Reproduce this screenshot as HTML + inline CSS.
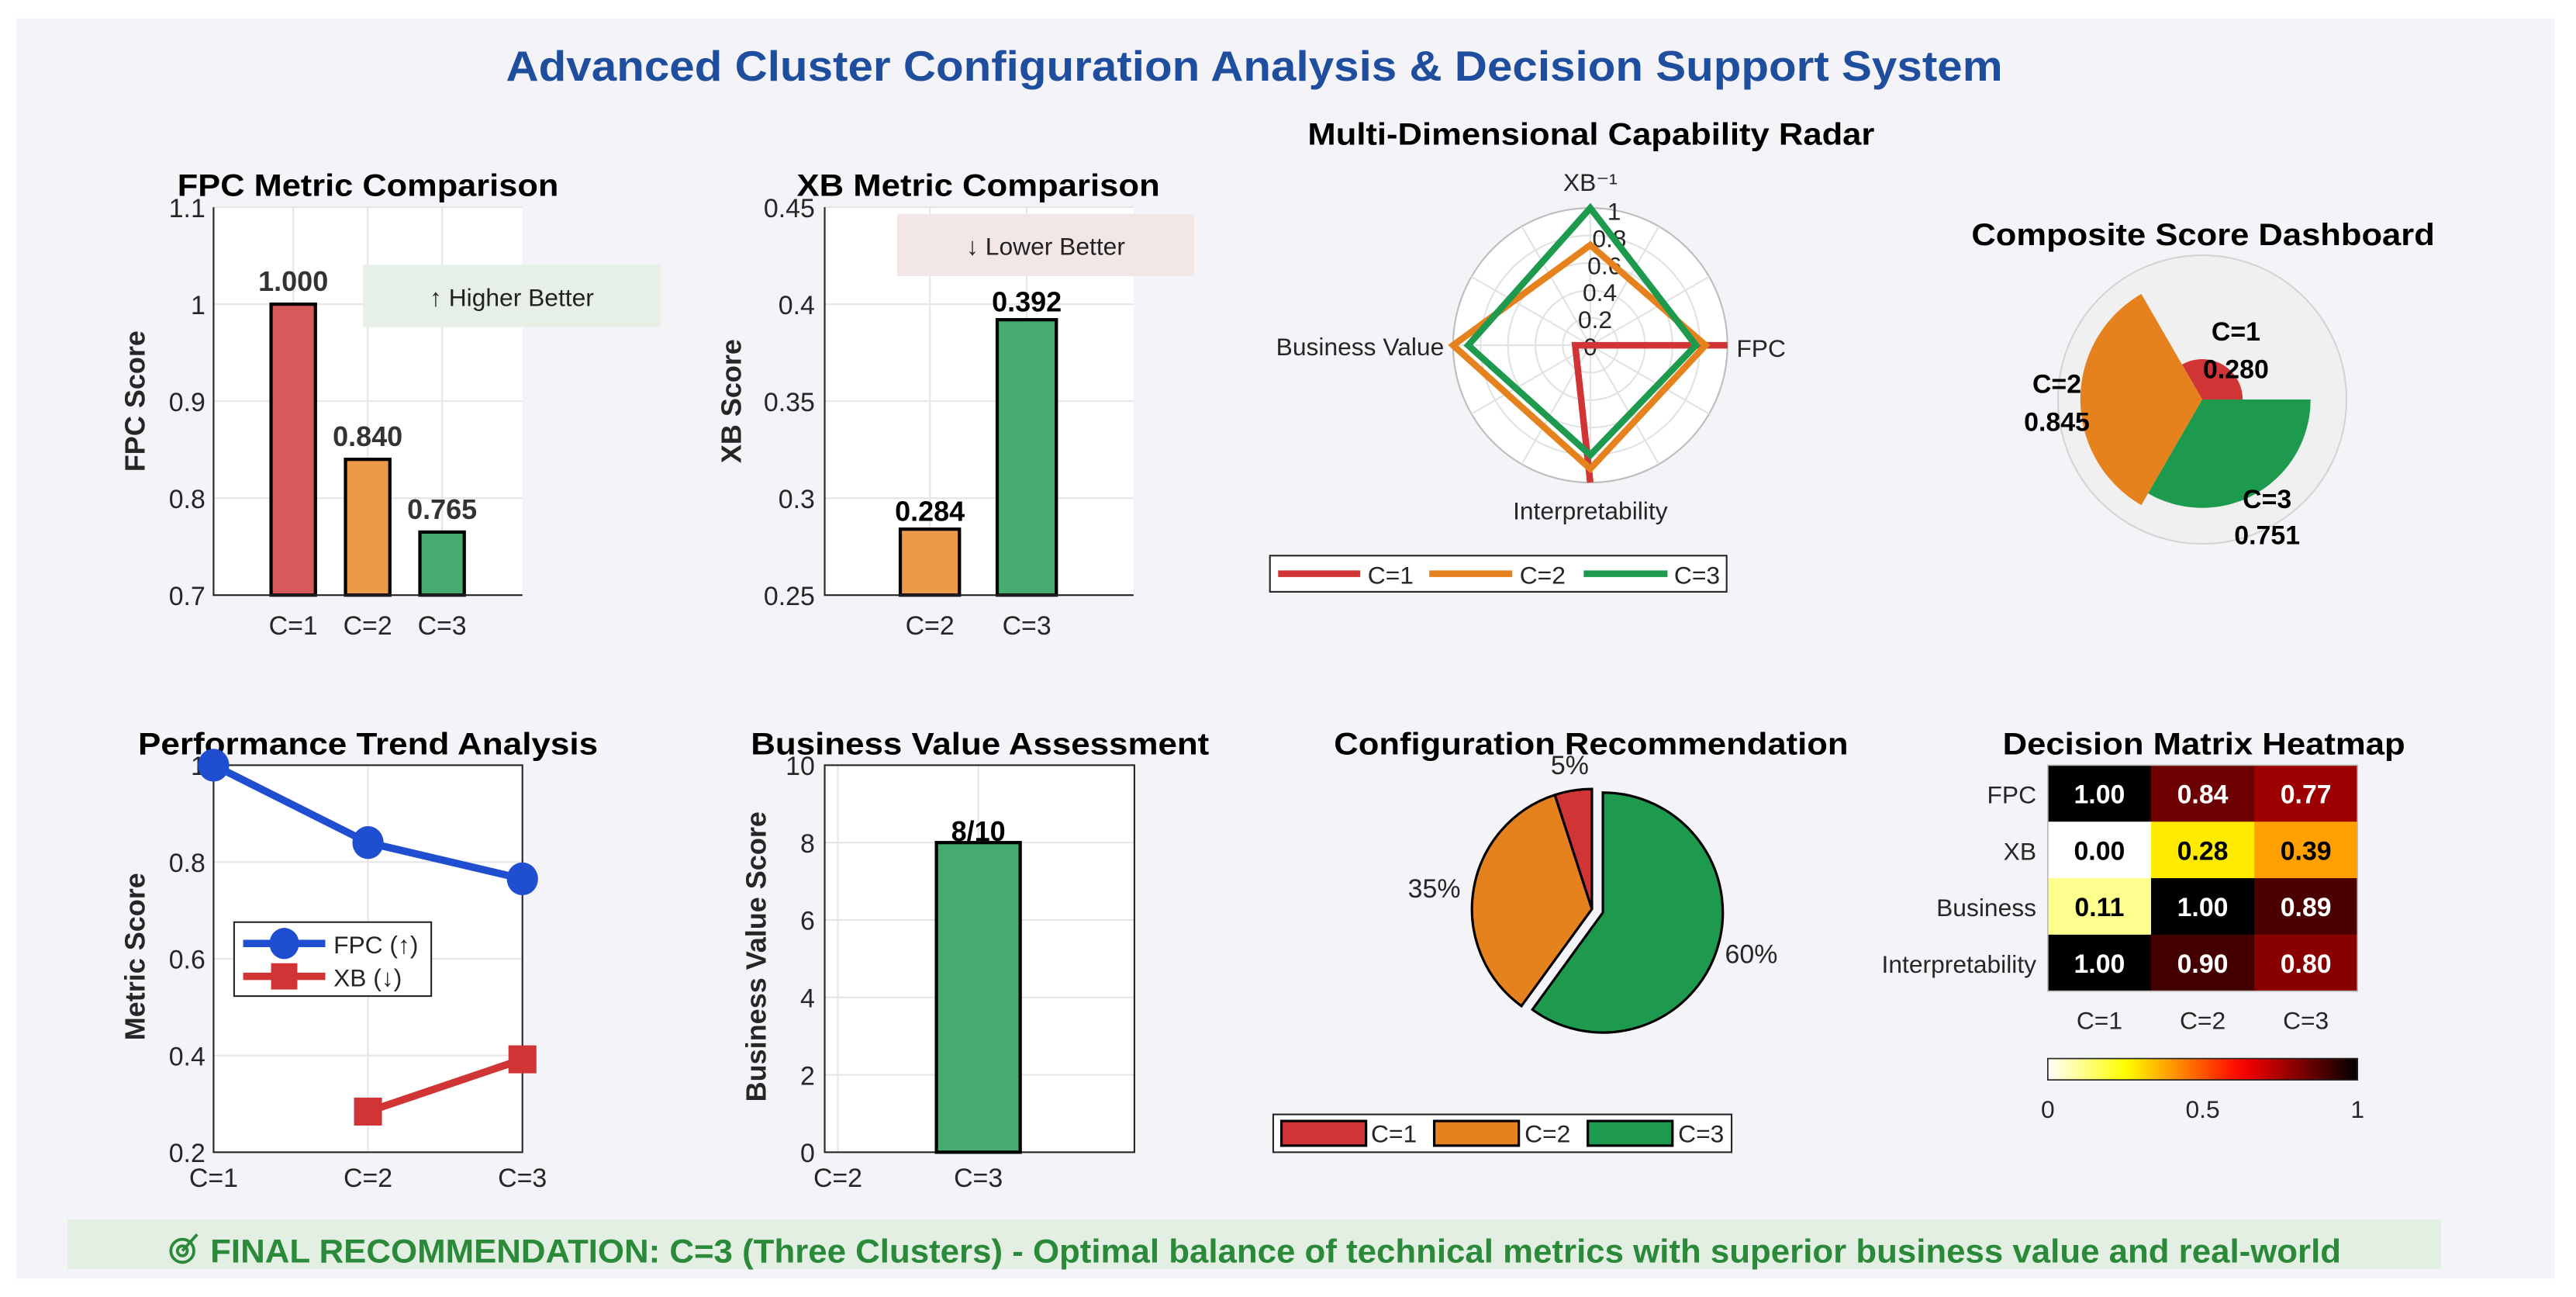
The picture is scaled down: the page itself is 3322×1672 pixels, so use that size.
<!DOCTYPE html>
<html><head><meta charset="utf-8">
<style>
html,body{margin:0;padding:0;background:#fff;}
svg{display:block;font-family:"Liberation Sans",Arial,sans-serif;}
</style></head>
<body>
<svg id="root" width="3322" height="1672" viewBox="0 0 1568 789" xmlns="http://www.w3.org/2000/svg">
<defs>
<linearGradient id="hotgrad" x1="0" x2="1" y1="0" y2="0"></linearGradient>
</defs>
<rect x="0" y="0" width="1568" height="789" fill="#ffffff"/>
<rect x="10" y="11" width="1545" height="767" fill="#f4f4f8"/>
<text x="308" y="49" font-size="26" font-weight="bold" fill="#1f4e9e" textLength="911" lengthAdjust="spacingAndGlyphs">Advanced Cluster Configuration Analysis &amp; Decision Support System</text>

<!-- chart titles -->
<text x="108" y="119" font-size="19" font-weight="bold" textLength="232" lengthAdjust="spacingAndGlyphs">FPC Metric Comparison</text>
<text x="485" y="119" font-size="19" font-weight="bold" textLength="221" lengthAdjust="spacingAndGlyphs">XB Metric Comparison</text>
<text x="796" y="88" font-size="19" font-weight="bold" textLength="345" lengthAdjust="spacingAndGlyphs">Multi-Dimensional Capability Radar</text>
<text x="1200" y="149" font-size="19" font-weight="bold" textLength="282" lengthAdjust="spacingAndGlyphs">Composite Score Dashboard</text>
<text x="84" y="459" font-size="19" font-weight="bold" textLength="280" lengthAdjust="spacingAndGlyphs">Performance Trend Analysis</text>
<text x="457" y="459" font-size="19" font-weight="bold" textLength="279" lengthAdjust="spacingAndGlyphs">Business Value Assessment</text>
<text x="812" y="459" font-size="19" font-weight="bold" textLength="313" lengthAdjust="spacingAndGlyphs">Configuration Recommendation</text>
<text x="1219" y="459" font-size="19" font-weight="bold" textLength="245" lengthAdjust="spacingAndGlyphs">Decision Matrix Heatmap</text>

<!-- y axis titles -->
<text transform="translate(88,244) rotate(-90)" text-anchor="middle" font-size="17" font-weight="bold" fill="#262626">FPC Score</text>
<text transform="translate(451,244) rotate(-90)" text-anchor="middle" font-size="17" font-weight="bold" fill="#262626">XB Score</text>
<text transform="translate(88,582) rotate(-90)" text-anchor="middle" font-size="17" font-weight="bold" fill="#262626">Metric Score</text>
<text transform="translate(466,582) rotate(-90)" text-anchor="middle" font-size="17" font-weight="bold" fill="#262626">Business Value Score</text>

<g id="g-fpc"></g>
<g id="g-xb"></g>
<g id="g-radar"></g>
<g id="g-comp"></g>
<g id="g-trend"></g>
<g id="g-bv"></g>
<g id="g-pie"></g>
<g id="g-heat"></g>

<rect x="41" y="742" width="1445" height="30" fill="#e3efe3"/>
<g fill="none" stroke="#2a8a3a" stroke-width="1.8">
<circle cx="111" cy="761" r="7"/><circle cx="111" cy="761" r="3"/><line x1="111" y1="761" x2="120" y2="751"/>
</g>
<text x="128" y="768" font-size="20" font-weight="bold" fill="#2a8a3a" textLength="1297" lengthAdjust="spacingAndGlyphs">FINAL RECOMMENDATION: C=3 (Three Clusters) - Optimal balance of technical metrics with superior business value and real-world</text>
</svg>

<script>
// ---------- data ----------
const fpcCats = ["C=1","C=2","C=3"];
const fpcVals = [1.000, 0.840, 0.765];
const fpcTicks = [0.7, 0.8, 0.9, 1, 1.1];
const fpcTickLabels = ["0.7","0.8","0.9","1","1.1"];

const xbCats = ["C=2","C=3"];
const xbVals = [0.284, 0.392];
const xbTicks = [0.25, 0.3, 0.35, 0.4, 0.45];
const xbTickLabels = ["0.25","0.3","0.35","0.4","0.45"];

const radarAxes = ["XB\u207B\u00B9","FPC","Interpretability","Business Value"];
const radarC1 = [0, 1.0, 1.0, 0.11];
const radarC2 = [0.73, 0.84, 0.90, 1.0];
const radarC3 = [1.0, 0.77, 0.80, 0.89];
const radarTicks = [0, 0.2, 0.4, 0.6, 0.8, 1];
const radarTickLabels = ["0","0.2","0.4","0.6","0.8","1"];

const compCats = ["C=1","C=2","C=3"];
const compVals = [0.280, 0.845, 0.751];

const trendCats = ["C=1","C=2","C=3"];
const trendFpc = [1.0, 0.84, 0.765];
const trendXb = [null, 0.284, 0.392];
const trendTicks = [0.2, 0.4, 0.6, 0.8, 1];
const trendTickLabels = ["0.2","0.4","0.6","0.8","1"];

const bvCats = ["C=2","C=3"];
const bvVals = [null, 8];
const bvTicks = [0, 2, 4, 6, 8, 10];

const pieCats = ["C=1","C=2","C=3"];
const pieVals = [5, 35, 60];

const heatRows = ["FPC","XB","Business","Interpretability"];
const heatCols = ["C=1","C=2","C=3"];
const heatVals = [[1.00,0.84,0.77],[0.00,0.28,0.39],[0.11,1.00,0.89],[1.00,0.90,0.80]];
const cbTicks = [0, 0.5, 1];

// ---------- helpers ----------
const NS = "http://www.w3.org/2000/svg";
function mk(parent, tag, attrs, text){
  const e = document.createElementNS(NS, tag);
  for (const k in attrs) e.setAttribute(k, attrs[k]);
  if (text !== undefined) e.textContent = text;
  parent.appendChild(e);
  return e;
}
const colR = "#d65a5a", colO = "#eb9a48", colG = "#46ab6e";
const lineR = "#d03434", lineO = "#e6821e", lineG = "#1e9a4e";
const $ = id => document.getElementById(id);

// ---------- FPC chart ----------
(function(){
  const g = $("g-fpc");
  const L=130, R=318, T=126, B=362;
  const y = v => B - (v-0.7)/0.4*(B-T);
  const x = i => 178.5 + i*45.3;
  const bg = mk(g,"rect",{x:L,y:T,width:R-L,height:B-T,fill:"#fff"});
  
  
  fpcTicks.forEach((t,i)=>{
    const gl = mk(g,"line",{x1:L,x2:R,y1:y(t),y2:y(t),stroke:"#e6e6e6","stroke-width":1});
    
    
    const tl = mk(g,"text",{x:L-5,y:y(t)+6,"text-anchor":"end","font-size":16,fill:"#262626"},fpcTickLabels[i]);
    
    
  });
  fpcCats.forEach((c,i)=>{
    const gl = mk(g,"line",{x1:x(i),x2:x(i),y1:T,y2:B,stroke:"#e6e6e6","stroke-width":1});
    
    
    const tl = mk(g,"text",{x:x(i),y:B+24,"text-anchor":"middle","font-size":16,fill:"#262626"},c);
    
    
  });
  const ann = mk(g,"rect",{x:221,y:161,width:181,height:38,fill:"#e6f0e6"});
  
  
  const annT = mk(g,"text",{x:311.5,y:186,"text-anchor":"middle","font-size":15,fill:"#222"},"\u2191 Higher Better");
  
  
  const cols=[colR,colO,colG];
  fpcVals.forEach((v,i)=>{
    const b = mk(g,"rect",{x:x(i)-13.5,y:y(v),width:27,height:B-y(v),fill:cols[i],stroke:"#000","stroke-width":2});
    
    
    const lb = mk(g,"text",{x:x(i),y:y(v)-8,"text-anchor":"middle","font-size":17,"font-weight":"bold",fill:"#333"},v.toFixed(3));
    
    
  });
  const ax = mk(g,"path",{d:`M${L},${T} L${L},${B} L${R},${B}`,fill:"none",stroke:"#262626","stroke-width":1});
  
  
})();

// ---------- XB chart ----------
(function(){
  const g = $("g-xb");
  const L=502, R=690, T=126, B=362;
  const y = v => B - (v-0.25)/0.2*(B-T);
  const x = i => 566 + i*59;
  const bg = mk(g,"rect",{x:L,y:T,width:R-L,height:B-T,fill:"#fff"});
  
  
  xbTicks.forEach((t,i)=>{
    const gl = mk(g,"line",{x1:L,x2:R,y1:y(t),y2:y(t),stroke:"#e6e6e6","stroke-width":1});
    
    
    const tl = mk(g,"text",{x:L-6,y:y(t)+6,"text-anchor":"end","font-size":16,fill:"#262626"},xbTickLabels[i]);
    
    
  });
  xbCats.forEach((c,i)=>{
    const gl = mk(g,"line",{x1:x(i),x2:x(i),y1:T,y2:B,stroke:"#e6e6e6","stroke-width":1});
    
    
    const tl = mk(g,"text",{x:x(i),y:B+24,"text-anchor":"middle","font-size":16,fill:"#262626"},c);
    
    
  });
  const ann = mk(g,"rect",{x:546,y:130,width:181,height:38,fill:"#f2e6e6"});
  
  
  const annT = mk(g,"text",{x:636.5,y:155,"text-anchor":"middle","font-size":15,fill:"#222"},"\u2193 Lower Better");
  
  
  const cols=[colO,colG];
  xbVals.forEach((v,i)=>{
    const b = mk(g,"rect",{x:x(i)-18,y:y(v),width:36,height:B-y(v),fill:cols[i],stroke:"#000","stroke-width":2});
    
    
    const lb = mk(g,"text",{x:x(i),y:y(v)-5,"text-anchor":"middle","font-size":17,"font-weight":"bold",fill:"#000"},v.toFixed(3));
    
    
  });
  const ax = mk(g,"path",{d:`M${L},${T} L${L},${B} L${R},${B}`,fill:"none",stroke:"#262626","stroke-width":1});
  
  
})();

// ---------- Radar ----------
(function(){
  const g = $("g-radar");
  const cx=968, cy=210, Rr=83.5;
  const angs=[90,0,-90,180];
  const pt=(v,a)=>[cx+v*Rr*Math.cos(a*Math.PI/180), cy-v*Rr*Math.sin(a*Math.PI/180)];
  const bg = mk(g,"circle",{cx:cx,cy:cy,r:Rr,fill:"#fff",stroke:"#bdbdbd","stroke-width":1});
  
  
  radarTicks.slice(1,-1).forEach(t=>{
    const c = mk(g,"circle",{cx:cx,cy:cy,r:t*Rr,fill:"none",stroke:"#e2e2e2","stroke-width":1});
    
    
  });
  for(let a=0;a<360;a+=30){
    const p=pt(1,a);
    const s = mk(g,"line",{x1:cx,y1:cy,x2:p[0],y2:p[1],stroke:"#e2e2e2","stroke-width":1});
    
    
  }
  radarTicks.forEach((t,i)=>{
    const p=pt(t,80);
    const tl = mk(g,"text",{x:p[0],y:p[1]+6,"text-anchor":"middle","font-size":15,fill:"#262626"},radarTickLabels[i]);
    
    
  });
  const al=[[968,116,"middle"],[1057,217,"start"],[968,316,"middle"],[879,216,"end"]];
  radarAxes.forEach((n,i)=>{
    const t = mk(g,"text",{x:al[i][0],y:al[i][1],"text-anchor":al[i][2],"font-size":15,fill:"#262626"},n);
    
    
  });
  // C=1 drawn as open path FPC -> XB -> Business -> Interp (as in reference)
  const order1=[1,0,3,2];
  const d1 = order1.map((k,j)=>{const p=pt(radarC1[k],angs[k]);return (j?"L":"M")+p[0]+","+p[1];}).join(" ");
  const l1 = mk(g,"path",{d:d1,fill:"none",stroke:lineR,"stroke-width":4,"stroke-linejoin":"miter"});
  
  
  [[radarC2,lineO,'radar-line-c2'],[radarC3,lineG,'radar-line-c3']].forEach(s=>{
    const d = s[0].map((v,k)=>{const p=pt(v,angs[k]);return (k?"L":"M")+p[0]+","+p[1];}).join(" ")+" Z";
    const l = mk(g,"path",{d:d,fill:"none",stroke:s[1],"stroke-width":4,"stroke-linejoin":"miter"});
    
    
  });
  const lg = mk(g,"rect",{x:773,y:338,width:278,height:22,fill:"#fff",stroke:"#262626","stroke-width":1});
  
  
  const ents=[[778,828,832.5,lineR,"C=1"],[870,920.5,925,lineO,"C=2"],[964,1015,1019,lineG,"C=3"]];
  ents.forEach(e=>{
    const ln = mk(g,"line",{x1:e[0],x2:e[1],y1:349,y2:349,stroke:e[3],"stroke-width":4});
    
    
    const t = mk(g,"text",{x:e[2],y:355,"font-size":15,fill:"#262626"},e[4]);
    
    
  });
})();

// ---------- Composite polar ----------
(function(){
  const g = $("g-comp");
  const cx=1340.5, cy=243, Rf=87.8;
  const bg = mk(g,"circle",{cx:cx,cy:cy,r:Rf,fill:"#f0f0f0",stroke:"#d4d4d4","stroke-width":1});
  
  
  const cols=[lineR,lineO,lineG];
  const lpos=[[1361,201,224],[1252,233,256],[1380,303,325]];
  compVals.forEach((v,i)=>{
    const a0=i*120*Math.PI/180, a1=(i+1)*120*Math.PI/180, r=v*Rf;
    const p0=[cx+r*Math.cos(a0),cy-r*Math.sin(a0)], p1=[cx+r*Math.cos(a1),cy-r*Math.sin(a1)];
    const w = mk(g,"path",{d:`M${cx},${cy} L${p0[0]},${p0[1]} A${r},${r} 0 0 0 ${p1[0]},${p1[1]} Z`,fill:cols[i]});
    
    
    const t1 = mk(g,"text",{x:lpos[i][0],y:lpos[i][1]+6,"text-anchor":"middle","font-size":16,"font-weight":"bold",fill:"#000"},compCats[i]);
    
    
    const t2 = mk(g,"text",{x:lpos[i][0],y:lpos[i][2]+6,"text-anchor":"middle","font-size":16,"font-weight":"bold",fill:"#000"},v.toFixed(3));
    
    
  });
})();

// ---------- Trend ----------
(function(){
  const g = $("g-trend");
  const L=130, R=318, T=465.5, B=701;
  const y = v => B - (v-0.2)/0.8*(B-T);
  const x = i => L + i*94;
  const bg = mk(g,"rect",{x:L,y:T,width:R-L,height:B-T,fill:"#fff"});
  
  
  trendTicks.forEach((t,i)=>{
    const gl = mk(g,"line",{x1:L,x2:R,y1:y(t),y2:y(t),stroke:"#e6e6e6","stroke-width":1});
    
    
    const tl = mk(g,"text",{x:L-5,y:y(t)+6,"text-anchor":"end","font-size":16,fill:"#262626"},trendTickLabels[i]);
    
    
  });
  trendCats.forEach((c,i)=>{
    const gl = mk(g,"line",{x1:x(i),x2:x(i),y1:T,y2:B,stroke:"#e6e6e6","stroke-width":1});
    
    
    const tl = mk(g,"text",{x:x(i),y:B+21,"text-anchor":"middle","font-size":16,fill:"#262626"},c);
    
    
  });
  const box = mk(g,"rect",{x:L,y:T,width:R-L,height:B-T,fill:"none",stroke:"#262626","stroke-width":1});
  
  
  const fp = trendFpc.map((v,i)=>(i?"L":"M")+x(i)+","+y(v)).join(" ");
  const fl = mk(g,"path",{d:fp,fill:"none",stroke:"#1f4fd0","stroke-width":4.5});
  
  
  trendFpc.forEach((v,i)=>{
    const m = mk(g,"ellipse",{cx:x(i),cy:y(v),rx:9.5,ry:10,fill:"#1f4fd0"});
    
    
  });
  const pts = trendXb.map((v,i)=>v==null?null:[x(i),y(v)]).filter(p=>p);
  const xl = mk(g,"path",{d:pts.map((p,i)=>(i?"L":"M")+p[0]+","+p[1]).join(" "),fill:"none",stroke:"#d03434","stroke-width":4.5});
  
  
  pts.forEach(p=>{
    const m = mk(g,"rect",{x:p[0]-8.5,y:p[1]-8.5,width:17,height:17,fill:"#d03434"});
    
    
  });
  const lg = mk(g,"rect",{x:142.5,y:561,width:120,height:45,fill:"#fff",stroke:"#262626","stroke-width":1});
  
  
  const l1 = mk(g,"line",{x1:148,x2:198,y1:574,y2:574,stroke:"#1f4fd0","stroke-width":4.5});
  
  
  const c1 = mk(g,"ellipse",{cx:173,cy:574,rx:9,ry:9.5,fill:"#1f4fd0"});
  
  
  const t1 = mk(g,"text",{x:203,y:580,"font-size":15,fill:"#262626"},"FPC (\u2191)");
  
  
  const l2 = mk(g,"line",{x1:148,x2:198,y1:594,y2:594,stroke:"#d03434","stroke-width":4.5});
  
  
  const c2 = mk(g,"rect",{x:165,y:586,width:16,height:16,fill:"#d03434"});
  
  
  const t2 = mk(g,"text",{x:203,y:600,"font-size":15,fill:"#262626"},"XB (\u2193)");
  
  
})();

// ---------- Business value ----------
(function(){
  const g = $("g-bv");
  const L=502, R=690.5, T=465.5, B=701;
  const y = v => B - v/10*(B-T);
  const x = i => 510 + i*85.5;
  const bg = mk(g,"rect",{x:L,y:T,width:R-L,height:B-T,fill:"#fff"});
  
  
  bvTicks.forEach(t=>{
    const gl = mk(g,"line",{x1:L,x2:R,y1:y(t),y2:y(t),stroke:"#e6e6e6","stroke-width":1});
    
    
    const tl = mk(g,"text",{x:L-6,y:y(t)+6,"text-anchor":"end","font-size":16,fill:"#262626"},String(t));
    
    
  });
  bvCats.forEach((c,i)=>{
    const gl = mk(g,"line",{x1:x(i),x2:x(i),y1:T,y2:B,stroke:"#e6e6e6","stroke-width":1});
    
    
    const tl = mk(g,"text",{x:x(i),y:B+21,"text-anchor":"middle","font-size":16,fill:"#262626"},c);
    
    
  });
  const box = mk(g,"rect",{x:L,y:T,width:R-L,height:B-T,fill:"none",stroke:"#262626","stroke-width":1});
  
  
  bvVals.forEach((v,i)=>{
    if(v==null) return;
    const b = mk(g,"rect",{x:x(i)-25.5,y:y(v),width:51,height:B-y(v),fill:colG,stroke:"#000","stroke-width":2});
    
    
    const lb = mk(g,"text",{x:x(i),y:y(v)-1,"text-anchor":"middle","font-size":17,"font-weight":"bold",fill:"#000"},v+"/10");
    
    
  });
})();

// ---------- Pie ----------
(function(){
  const g = $("g-pie");
  const cx=969, cy=553, Rp=73;
  const cols=[lineR,lineO,lineG];
  const total = pieVals.reduce((a,b)=>a+b,0);
  // clockwise from top: C=3 first, then C=2, then C=1
  const order=[2,1,0];
  let start=0;
  const lpos={0:[955.5,471],1:[873,546],2:[1066,586]};
  order.forEach(k=>{
    const sweep=pieVals[k]/total*360;
    const a0=start, a1=start+sweep;
    const mid=(a0+a1)/2*Math.PI/180;
    const off = k===2?7:0;
    const ox=cx+off*Math.sin(mid), oy=cy-off*Math.cos(mid);
    const p=(a)=>[ox+Rp*Math.sin(a*Math.PI/180), oy-Rp*Math.cos(a*Math.PI/180)];
    const p0=p(a0), p1=p(a1);
    const w = mk(g,"path",{d:`M${ox},${oy} L${p0[0]},${p0[1]} A${Rp},${Rp} 0 ${sweep>180?1:0} 1 ${p1[0]},${p1[1]} Z`,fill:cols[k],stroke:"#000","stroke-width":1.5});
    
    
    const t = mk(g,"text",{x:lpos[k][0],y:lpos[k][1],"text-anchor":"middle","font-size":16,fill:"#262626"},pieVals[k]+"%");
    
    
    start=a1;
  });
  const lg = mk(g,"rect",{x:775,y:678,width:279,height:23,fill:"#fff",stroke:"#262626","stroke-width":1});
  
  
  const ents=[[780,831.5,834.5,lineR,"C=1"],[873,924.5,928,lineO,"C=2"],[966.5,1018,1021.5,lineG,"C=3"]];
  ents.forEach(e=>{
    const r = mk(g,"rect",{x:e[0],y:682,width:e[1]-e[0],height:15,fill:e[3],stroke:"#000","stroke-width":1.5});
    
    
    const t = mk(g,"text",{x:e[2],y:695,"font-size":15,fill:"#262626"},e[4]);
    
    
  });
})();

// ---------- Heatmap ----------
function hotRev(v){
  const t=1-v;
  const cl=x=>Math.max(0,Math.min(1,x));
  const r=cl(t/0.375), gg=cl((t-0.375)/0.375), b=cl((t-0.75)/0.25);
  return `rgb(${Math.round(r*255)},${Math.round(gg*255)},${Math.round(b*255)})`;
}
(function(){
  const g = $("g-heat");
  const L=1246.5, R=1435, T=465.5, B=603;
  const cw=(R-L)/heatCols.length, ch=(B-T)/heatRows.length;
  heatRows.forEach((rn,r)=>{
    heatCols.forEach((cn,c)=>{
      const v=heatVals[r][c];
      const cell = mk(g,"rect",{x:L+c*cw,y:T+r*ch,width:cw+0.3,height:ch+0.3,fill:hotRev(v)});
      
      
      const t = mk(g,"text",{x:L+c*cw+cw/2,y:T+r*ch+ch/2+6,"text-anchor":"middle","font-size":16,"font-weight":"bold",fill:v>0.5?"#fff":"#000"},v.toFixed(2));
      
      
    });
    const rl = mk(g,"text",{x:L-7,y:T+r*ch+ch/2+6,"text-anchor":"end","font-size":15,fill:"#262626"},rn);
    
    
  });
  heatCols.forEach((cn,c)=>{
    const cl = mk(g,"text",{x:L+c*cw+cw/2,y:626,"text-anchor":"middle","font-size":15,fill:"#262626"},cn);
    
    
  });
  const fr = mk(g,"rect",{x:L,y:T,width:R-L,height:B-T,fill:"none",stroke:"#bbb","stroke-width":0.8});
  
  
  const grad = document.getElementById("hotgrad");
  for(let i=0;i<=20;i++){
    const s = mk(grad,"stop",{offset:(i/20),"stop-color":hotRev(i/20)});
    
    
  }
  const cb = mk(g,"rect",{x:L,y:644,width:R-L,height:13,fill:"url(#hotgrad)",stroke:"#262626","stroke-width":0.8});
  
  
  cbTicks.forEach(t=>{
    const tl = mk(g,"text",{x:L+t*(R-L),y:680,"text-anchor":"middle","font-size":15,fill:"#262626"},String(t));
    
    
  });
})();
</script>
</body></html>
